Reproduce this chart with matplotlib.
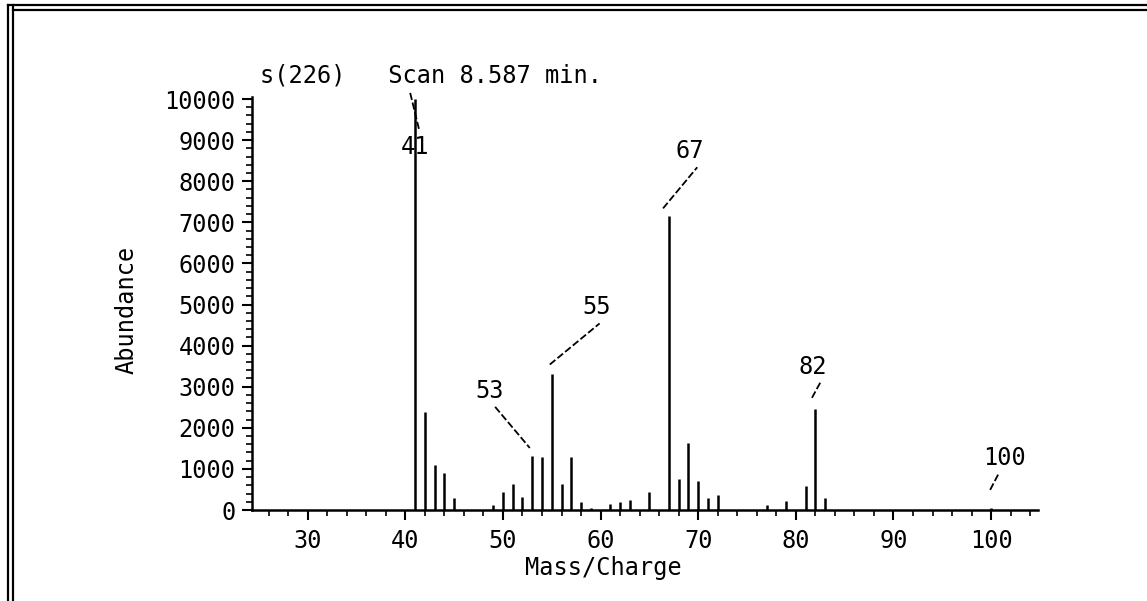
import matplotlib
matplotlib.use("Agg")
import matplotlib.pyplot as plt
from matplotlib.ticker import MultipleLocator, FixedLocator
from matplotlib.lines import Line2D

# ---- data ----
masses = [41, 42, 43, 44, 45, 49, 50, 51, 52, 53, 54, 55, 56, 57, 58, 59,
          61, 62, 63, 65, 67, 68, 69, 70, 71, 72, 77, 79, 81, 82, 83, 100]
abundance = [10000, 2390, 1100, 900, 290, 120, 440, 630, 320, 1320, 1290, 3320,
             630, 1300, 200, 50, 150, 190, 240, 440, 7150, 750, 1630, 700,
             290, 370, 130, 220, 580, 2450, 280, 60]
labelled = ["41", "53", "55", "67", "82", "100"]
x_ticks = [30, 40, 50, 60, 70, 80, 90, 100]
y_ticks = [0, 1000, 2000, 3000, 4000, 5000, 6000, 7000, 8000, 9000, 10000]
title = "s(226)   Scan 8.587 min."
xlabel = "Mass/Charge"
ylabel = "Abundance"

# label layout: (text position, leader start, leader end) in data units
label_layout = {
    "41": ((41.0, 8830), (40.5, 10150), (41.4, 9270)),
    "53": ((48.65, 2900), (49.2, 2510), (52.75, 1510)),
    "55": ((59.6, 4930), (54.8, 3540), (59.9, 4540)),
    "67": ((69.15, 8730), (66.4, 7340), (69.9, 8340)),
    "82": ((81.76, 3490), (81.65, 2730), (82.5, 3100)),
    "100": ((101.4, 1270), (99.9, 490), (100.8, 900)),
}

FONT = "DejaVu Sans Mono"
FS = 17

fig = plt.figure(figsize=(11.47, 6.01), dpi=100)
fig.patch.set_facecolor("white")
W, H = 1147, 601
ax = fig.add_axes([252 / W, 1 - 510 / H, (1038 - 252) / W, (510 - 97) / H])

ax.vlines(masses, 0, abundance, colors="black", linewidth=1.8, clip_on=False)

ax.set_xlim(24.3, 104.8)
ax.set_ylim(0, 10050)

ax.xaxis.set_major_locator(FixedLocator(x_ticks))
ax.xaxis.set_minor_locator(MultipleLocator(2))
ax.yaxis.set_major_locator(FixedLocator(y_ticks))
ax.yaxis.set_minor_locator(MultipleLocator(200))

for s in ["top", "right"]:
    ax.spines[s].set_visible(False)
for s in ["left", "bottom"]:
    ax.spines[s].set_linewidth(1.8)

ax.tick_params(axis="both", which="major", direction="out", length=7, width=1.5,
               labelsize=FS, colors="black")
ax.tick_params(axis="both", which="minor", direction="out", length=4, width=1.2)
ax.tick_params(axis="x", which="major", pad=7)
ax.tick_params(axis="y", which="major", pad=5)
ax.set_xticklabels([str(t) for t in x_ticks], fontfamily=FONT)
ax.set_yticklabels([str(t) for t in y_ticks], fontfamily=FONT)

for lab in labelled:
    (tx, ty), (x0, y0), (x1, y1) = label_layout[lab]
    ax.text(tx, ty, lab, fontsize=FS, fontfamily=FONT, ha="center", va="center")
    ax.plot([x0, x1], [y0, y1], color="black", linewidth=1.3,
            linestyle=(0, (4, 1.5)), clip_on=False)

fig.text(260 / W, 1 - 75 / H, title, fontsize=FS, fontfamily=FONT,
         ha="left", va="center")
fig.text(603 / W, 1 - 568 / H, xlabel, fontsize=FS, fontfamily=FONT,
         ha="center", va="center")
fig.text(127 / W, 1 - 310 / H, ylabel, fontsize=FS, fontfamily=FONT,
         ha="center", va="center", rotation=90)

# double border (left and top)
for xp in (8, 13):
    fig.add_artist(Line2D([xp / W, xp / W], [0, 1 - 5 / H], color="black",
                          linewidth=1.6, transform=fig.transFigure))
for yp in (5, 10):
    x_start = 8 if yp == 5 else 13
    fig.add_artist(Line2D([x_start / W, 1], [1 - yp / H, 1 - yp / H],
                          color="black", linewidth=1.6,
                          transform=fig.transFigure))

fig.savefig("out.png", dpi=100)
